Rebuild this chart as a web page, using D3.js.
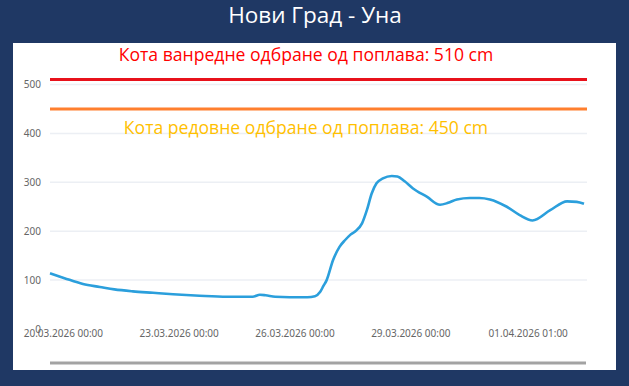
<!DOCTYPE html>
<html>
<head>
<meta charset="utf-8">
<script src="https://cdn.jsdelivr.net/npm/d3@7"></script>
<style>
  body { margin: 0; background: #1f3864; }
  svg { display: block; }
</style>
</head>
<body>
<svg id="chart"></svg>
<script>
var Width = 629, Height = 386;

// water level readings, Нови Град - Уна
var times = ["2026-03-19T16:00","2026-03-20T01:00","2026-03-20T12:30","2026-03-20T23:00","2026-03-21T08:00",
  "2026-03-21T19:30","2026-03-22T08:00","2026-03-22T20:30","2026-03-23T13:00","2026-03-24T06:00",
  "2026-03-24T22:00","2026-03-25T02:30","2026-03-25T06:00","2026-03-25T12:00","2026-03-25T21:00",
  "2026-03-26T08:00","2026-03-26T12:45","2026-03-26T16:00","2026-03-26T18:00","2026-03-26T20:00",
  "2026-03-27T00:00","2026-03-27T04:00","2026-03-27T07:30","2026-03-27T10:30","2026-03-27T13:30",
  "2026-03-27T18:00","2026-03-27T21:00","2026-03-28T00:00","2026-03-28T03:00","2026-03-28T07:00",
  "2026-03-28T12:30","2026-03-28T16:00","2026-03-28T20:30","2026-03-29T01:30","2026-03-29T10:30",
  "2026-03-29T18:30","2026-03-29T23:30","2026-03-30T05:00","2026-03-30T13:00","2026-03-30T19:00",
  "2026-03-31T01:30","2026-03-31T12:00","2026-03-31T20:00","2026-04-01T04:00","2026-04-01T15:00",
  "2026-04-02T01:30","2026-04-02T07:30","2026-04-02T12:00"];
var levels = [114,104,92,86,81,
  77,74,71,68,66,
  66,70,69,66,65,
  65,67,76,88,100,
  141,168,182,192,199,
  216,243,277,298,308,
  313,312,302,288,270,
  254,258,265,268,268,
  265,250,233,222,243,
  261,260,256];

var yTicks = [0,100,200,300,400,500];
var xTickTimes = ["2026-03-20T00:00","2026-03-23T00:00","2026-03-26T00:00","2026-03-29T00:00","2026-04-01T01:00"];
var xTickLabels = ["20.03.2026 00:00","23.03.2026 00:00","26.03.2026 00:00","29.03.2026 00:00","01.04.2026 01:00"];

var thresholdValues = [510, 450];
var thresholdLabels = ["Кота ванредне одбране од поплава: 510 cm","Кота редовне одбране од поплава: 450 cm"];

var parse = d3.timeParse("%Y-%m-%dT%H:%M");
var data = times.map(function(t, i) { return {date: parse(t), value: levels[i]}; });

var svg = d3.select("#chart").attr("width", Width).attr("height", Height);

// title
svg.append("text")
  .attr("x", 315).attr("y", 23)
  .attr("text-anchor", "middle")
  .style("font-family", "'Open Sans', sans-serif")
  .style("font-size", "22.5px")
  .style("fill", "#ffffff")
  .text("Нови Град - Уна");

// white panel
svg.append("rect")
  .attr("x", 13).attr("y", 43).attr("width", 603).attr("height", 327)
  .style("fill", "#ffffff");

var x = d3.scaleTime()
  .domain(d3.extent(data, function(d) { return d.date; }))
  .range([50, 584]);
var y = d3.scaleLinear().domain([0, 500]).range([329, 84.5]);

// gridlines
svg.append("g").selectAll("line")
  .data(yTicks.filter(function(v) { return v > 0; }))
  .enter().append("line")
    .attr("x1", 50).attr("x2", 587)
    .attr("y1", function(d) { return y(d); })
    .attr("y2", function(d) { return y(d); })
    .style("stroke", "#eceff4").style("stroke-width", 1.5);

// y axis
var yAxis = svg.append("g")
  .attr("transform", "translate(41,0)")
  .call(d3.axisLeft(y).tickValues(yTicks).tickSize(0).tickPadding(0));
yAxis.select(".domain").remove();
yAxis.selectAll("text")
  .style("font-family", "'Noto Sans', sans-serif")
  .style("font-size", "10px")
  .style("fill", "#666");

// x axis
var xAxis = svg.append("g")
  .attr("transform", "translate(0,330)")
  .call(d3.axisBottom(x)
    .tickValues(xTickTimes.map(parse))
    .tickFormat(function(d, i) { return xTickLabels[i]; })
    .tickSize(0).tickPadding(0));
xAxis.select(".domain").remove();
xAxis.selectAll("text")
  .style("font-family", "'Noto Sans', sans-serif")
  .style("font-size", "10px")
  .style("fill", "#666");

// threshold lines
var thrColors = ["#e8111b", "#ff7f2e"];
svg.append("g").selectAll("line")
  .data(thresholdValues)
  .enter().append("line")
    .attr("x1", 50).attr("x2", 587)
    .attr("y1", function(d) { return y(d); })
    .attr("y2", function(d) { return y(d); })
    .style("stroke", function(d, i) { return thrColors[i]; })
    .style("stroke-width", 3);

// threshold captions
var capColors = ["#ff0000", "#ffc000"];
var capY = [61, 134];
svg.append("g").selectAll("text")
  .data(thresholdLabels)
  .enter().append("text")
    .attr("x", 306)
    .attr("y", function(d, i) { return capY[i]; })
    .attr("text-anchor", "middle")
    .style("font-family", "'Open Sans', sans-serif")
    .style("font-size", "17.6px")
    .style("fill", function(d, i) { return capColors[i]; })
    .text(function(d) { return d; });

// level line
var line = d3.line()
  .x(function(d) { return x(d.date); })
  .y(function(d) { return y(d.value); })
  .curve(d3.curveMonotoneX);

svg.append("path")
  .datum(data)
  .attr("d", line)
  .style("fill", "none")
  .style("stroke", "#2b9fdc")
  .style("stroke-width", 2.6)
  .style("stroke-linejoin", "round");

// scroll bar at bottom
svg.append("line")
  .attr("x1", 50).attr("x2", 586)
  .attr("y1", 363).attr("y2", 363)
  .style("stroke", "#a3a3a3").style("stroke-width", 3);
</script>
</body>
</html>
